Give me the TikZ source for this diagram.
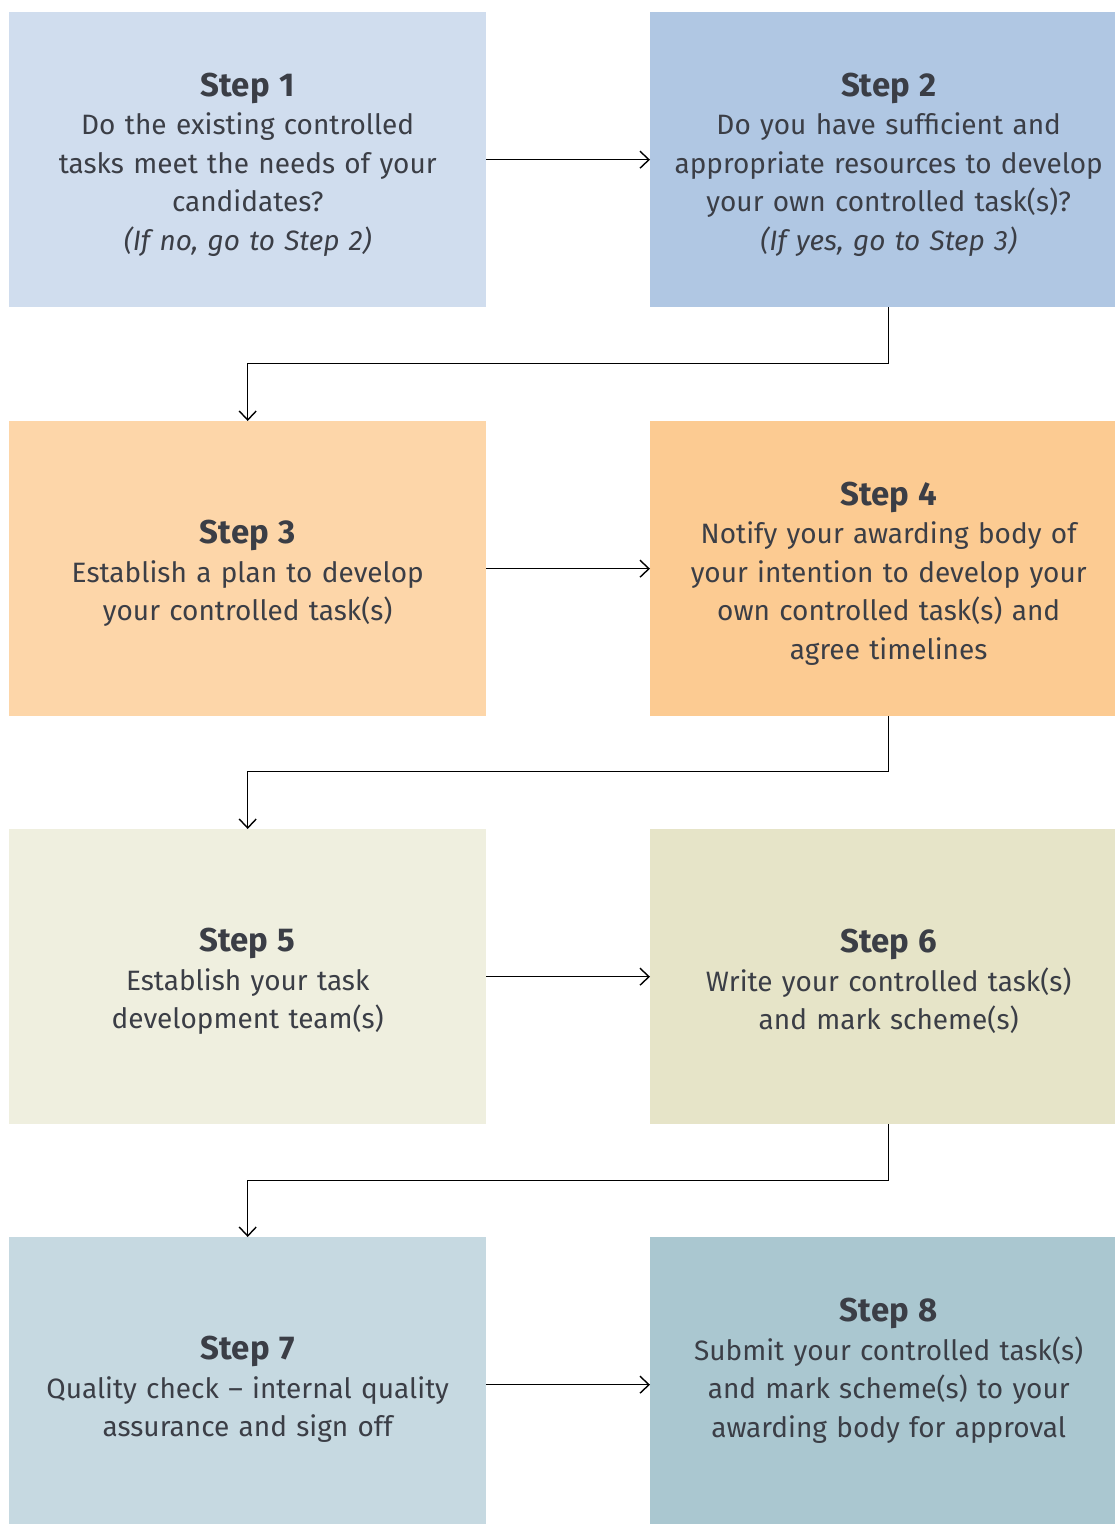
\documentclass[tikz,border=0pt]{standalone}
\usepackage{fontspec}
\setmainfont{Fira Sans}
\usetikzlibrary{arrows.meta}
\definecolor{txt}{HTML}{3B3E46}
\definecolor{cA}{HTML}{D0DDEE}
\definecolor{cB}{HTML}{B0C7E3}
\definecolor{cC}{HTML}{FDD6A9}
\definecolor{cD}{HTML}{FCCB92}
\definecolor{cE}{HTML}{EFEFDF}
\definecolor{cF}{HTML}{E6E4C8}
\definecolor{cG}{HTML}{C6D9E1}
\definecolor{cH}{HTML}{AAC7D0}
\newcommand{\stt}[1]{{\fontsize{33}{38.5}\selectfont\bfseries #1}}
\tikzset{
  stepbox/.style={rectangle, anchor=north west, minimum width=477pt, minimum height=295pt,
    inner sep=0pt},
  steptext/.style={inner sep=0pt, text width=460pt, align=center, text=txt,
    font=\fontsize{28}{38.5}\selectfont},
  conn/.style={draw=black, line width=1.4pt, -{Straight Barb[length=9pt,width=17pt,line width=1.4pt]}}
}
\begin{document}
\begin{tikzpicture}[x=1pt,y=-1pt]
\useasboundingbox (0,0) rectangle (1115,1524);
\begin{scope}
\clip (0,0) rectangle (1115,1524);
\node[stepbox, fill=cA] (s1) at (9,12) {};
\node[stepbox, fill=cB] (s2) at (650,12) {};
\node[stepbox, fill=cC] (s3) at (9,421) {};
\node[stepbox, fill=cD] (s4) at (650,421) {};
\node[stepbox, fill=cE] (s5) at (9,829) {};
\node[stepbox, fill=cF] (s6) at (650,829) {};
\node[stepbox, fill=cG] (s7) at (9,1237) {};
\node[stepbox, fill=cH] (s8) at (650,1237) {};
\end{scope}
\node[steptext] (t1) at ([yshift=-5pt]s1.center) {\stt{Step 1}\\Do the existing controlled\\tasks meet the needs of your\\candidates?\\\itshape(If no, go to Step 2)};
\node[steptext] (t2) at ([yshift=-5pt]s2.center) {\stt{Step 2}\\Do you have sufficient and\\appropriate resources to develop\\your own controlled task(s)?\\\itshape(If yes, go to Step 3)};
\node[steptext] (t3) at ([yshift=-5pt]s3.center) {\stt{Step 3}\\Establish a plan to develop\\your controlled task(s)};
\node[steptext] (t4) at ([yshift=-5pt]s4.center) {\stt{Step 4}\\Notify your awarding body of\\your intention to develop your\\own controlled task(s) and\\agree timelines};
\node[steptext] (t5) at ([yshift=-5pt]s5.center) {\stt{Step 5}\\Establish your task\\development team(s)};
\node[steptext] (t6) at ([yshift=-5pt]s6.center) {\stt{Step 6}\\Write your controlled task(s)\\and mark scheme(s)};
\node[steptext] (t7) at ([yshift=-5pt]s7.center) {\stt{Step 7}\\Quality check -- internal quality\\assurance and sign off};
\node[steptext] (t8) at ([yshift=14pt]s8.center) {\stt{Step 8}\\Submit your controlled task(s)\\and mark scheme(s) to your\\awarding body for approval};
\draw[conn] (s1.east) -- (s2.west);
\draw[conn] (s3.east) -- (s4.west);
\draw[conn] (s5.east) -- (s6.west);
\draw[conn] (s7.east) -- (s8.west);
\draw[conn] (s2.south) -- ++(0,56) -| (s3.north);
\draw[conn] (s4.south) -- ++(0,55) -| (s5.north);
\draw[conn] (s6.south) -- ++(0,56) -| (s7.north);
\end{tikzpicture}
\end{document}
